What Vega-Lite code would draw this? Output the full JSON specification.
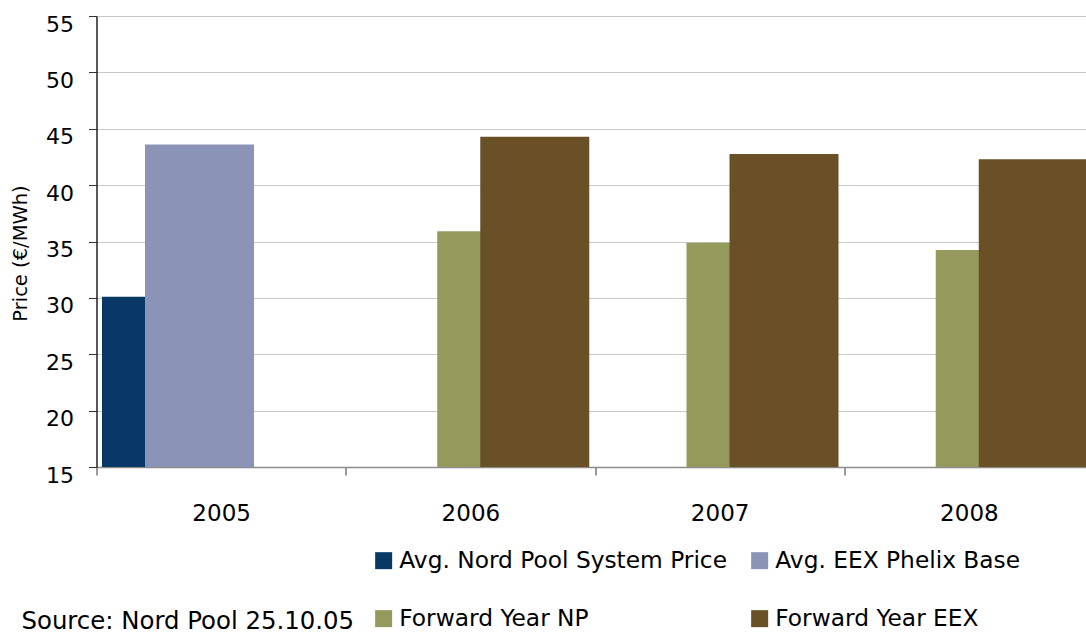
{
  "$schema": "https://vega.github.io/schema/vega-lite/v6.json",
  "width": 997,
  "height": 451,
  "autosize": "none",
  "padding": {"left": 96.5, "top": 16, "right": 0, "bottom": 167},
  "background": "#ffffff",
  "config": {
    "view": {"stroke": null},
    "font": "DejaVu Sans"
  },
  "title": {
    "text": "Source: Nord Pool 25.10.05",
    "orient": "bottom",
    "anchor": "start",
    "frame": "group",
    "font": "DejaVu Sans",
    "fontSize": 24.4,
    "fontWeight": "normal",
    "color": "#000000",
    "dx": -75,
    "offset": -20
  },
  "data": {
    "values": [
      {"year": "2005", "series": "Avg. Nord Pool System Price", "price": 30.1},
      {"year": "2005", "series": "Avg. EEX Phelix Base", "price": 43.6},
      {"year": "2006", "series": "Forward Year NP", "price": 35.9},
      {"year": "2006", "series": "Forward Year EEX", "price": 44.3},
      {"year": "2007", "series": "Forward Year NP", "price": 34.9},
      {"year": "2007", "series": "Forward Year EEX", "price": 42.75},
      {"year": "2008", "series": "Forward Year NP", "price": 34.25},
      {"year": "2008", "series": "Forward Year EEX", "price": 42.3}
    ]
  },
  "mark": {"type": "bar", "width": {"band": 2.535}, "clip": true},
  "encoding": {
    "x": {
      "field": "year",
      "type": "nominal",
      "title": null,
      "scale": {"paddingInner": 0, "paddingOuter": 0},
      "axis": {
        "tickBand": "extent",
        "labelAngle": 0,
        "labelFont": "DejaVu Sans",
        "labelFontSize": 23,
        "labelColor": "#000000",
        "labelPadding": 27,
        "domainColor": "#8c8c8c",
        "domainWidth": 1.5,
        "tickColor": "#333333",
        "tickSize": 8,
        "grid": false
      }
    },
    "xOffset": {
      "field": "series",
      "type": "nominal",
      "scale": {
        "domain": ["Avg. Nord Pool System Price", "Avg. EEX Phelix Base", "Forward Year NP", "Forward Year EEX"],
        "range": [196.8, 368.8],
        "paddingInner": 0,
        "paddingOuter": 0
      }
    },
    "y": {
      "field": "price",
      "type": "quantitative",
      "title": "Price (€/MWh)",
      "scale": {"domain": [15, 55], "zero": false, "nice": false},
      "axis": {
        "values": [15, 20, 25, 30, 35, 40, 45, 50, 55],
        "grid": true,
        "gridColor": "#c8c8c8",
        "gridWidth": 1,
        "domainColor": "#222222",
        "domainWidth": 1.5,
        "tickColor": "#333333",
        "tickSize": 8,
        "labelFont": "DejaVu Sans",
        "labelFontSize": 22,
        "labelColor": "#000000",
        "labelPadding": 15,
        "labelBaseline": "middle",
        "labelOffset": 8,
        "titleFont": "DejaVu Sans",
        "titleFontSize": 19.5,
        "titleFontWeight": "normal",
        "titleColor": "#000000",
        "titleAngle": -90,
        "titleAlign": "center",
        "titleBaseline": "alphabetic",
        "titleX": -70,
        "titleY": 237
      }
    },
    "color": {
      "field": "series",
      "type": "nominal",
      "scale": {
        "domain": ["Avg. Nord Pool System Price", "Avg. EEX Phelix Base", "Forward Year NP", "Forward Year EEX"],
        "range": ["#0a3866", "#8b93b7", "#959a5c", "#6a5027"]
      },
      "legend": {
        "title": null,
        "orient": "none",
        "legendX": 275.5,
        "legendY": 533,
        "direction": "horizontal",
        "columns": 2,
        "symbolType": "square",
        "symbolSize": 289,
        "symbolStrokeWidth": 0,
        "symbolOpacity": 1,
        "labelFont": "DejaVu Sans",
        "labelFontSize": 23.3,
        "labelColor": "#000000",
        "labelOffset": 4,
        "labelLimit": 500,
        "columnPadding": 20,
        "rowPadding": 34
      }
    }
  }
}
